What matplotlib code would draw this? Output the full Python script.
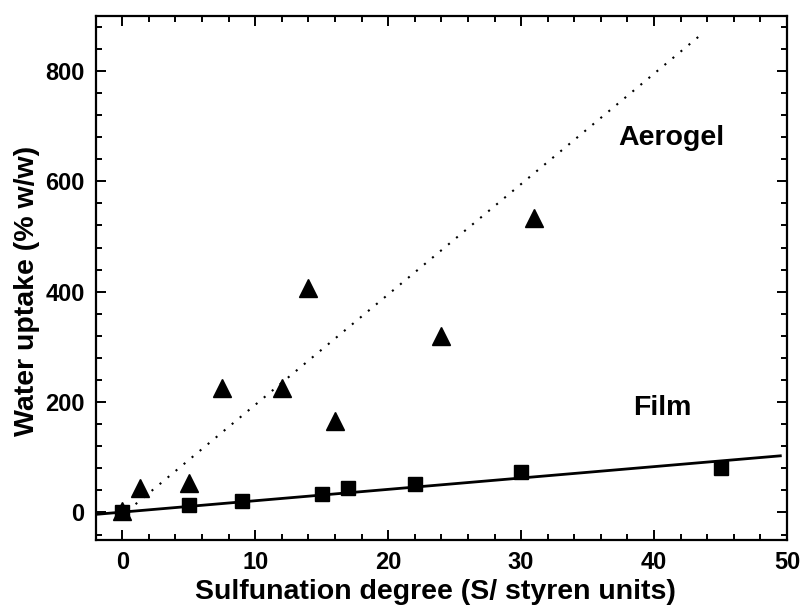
import matplotlib
matplotlib.use("Agg")
import matplotlib.pyplot as plt
import numpy as np
from matplotlib.ticker import MultipleLocator

plt.rcParams['font.family'] = ['Liberation Sans', 'DejaVu Sans']
plt.rcParams['font.weight'] = 'bold'

# Aerogel samples: sulfonation degree vs water uptake
aerogel_x = [0, 1.3, 5, 7.5, 12, 14, 16, 24, 31]
aerogel_y = [3, 45, 53, 226, 226, 406, 166, 320, 533]

# Film samples
film_x = [0, 5, 9, 15, 17, 22, 30, 45]
film_y = [1, 13, 21, 34, 44, 51, 74, 81]

# Linear trend lines (slope, intercept, x range)
film_fit = (2.06, 0.6, (-2, 49.5))
aerogel_fit = (20.0, -5.0, (1.0, 43.7))

fig = plt.figure(figsize=(8.05, 6.12), dpi=100)
ax = fig.add_axes([0.1189, 0.1176, 0.8587, 0.8567])

# trend lines
xs = np.array(film_fit[2])
ax.plot(xs, film_fit[0] * xs + film_fit[1], color='black', lw=2.0, zorder=2)
xs = np.array(aerogel_fit[2])
ax.plot(xs, aerogel_fit[0] * xs + aerogel_fit[1], color='black', lw=1.5,
        linestyle=(0, (1, 4)), zorder=2)

# data points
ax.plot(film_x, film_y, linestyle='none', marker='s', ms=10.5,
        color='black', zorder=3)
ax.plot(aerogel_x, aerogel_y, linestyle='none', marker='^', ms=13.5,
        color='black', zorder=3)

ax.text(37.3, 666, 'Aerogel', fontsize=20.5, fontweight='bold',
        ha='left', va='baseline')
ax.text(38.45, 176, 'Film', fontsize=20.5, fontweight='bold',
        ha='left', va='baseline')

ax.set_xlim(-2, 50)
ax.set_ylim(-50, 900)

ax.xaxis.set_major_locator(MultipleLocator(10))
ax.xaxis.set_minor_locator(MultipleLocator(2))
ax.yaxis.set_major_locator(MultipleLocator(200))
ax.yaxis.set_minor_locator(MultipleLocator(40))

ax.tick_params(which='both', direction='in', top=True, right=True,
               width=1.4, labelsize=17)
ax.tick_params(which='major', length=7, pad=8)
ax.tick_params(which='minor', length=4)
for lab in ax.get_xticklabels() + ax.get_yticklabels():
    lab.set_fontweight('bold')

for sp in ax.spines.values():
    sp.set_linewidth(1.6)

ax.set_xlabel('Sulfunation degree (S/ styren units)', fontsize=20.5,
              fontweight='bold')
ax.set_ylabel('Water uptake (% w/w)', fontsize=20.5, fontweight='bold')
ax.xaxis.set_label_coords(0.492, -0.075)
ax.yaxis.set_label_coords(-0.08, 0.475)

fig.savefig('out.png', dpi=100)
